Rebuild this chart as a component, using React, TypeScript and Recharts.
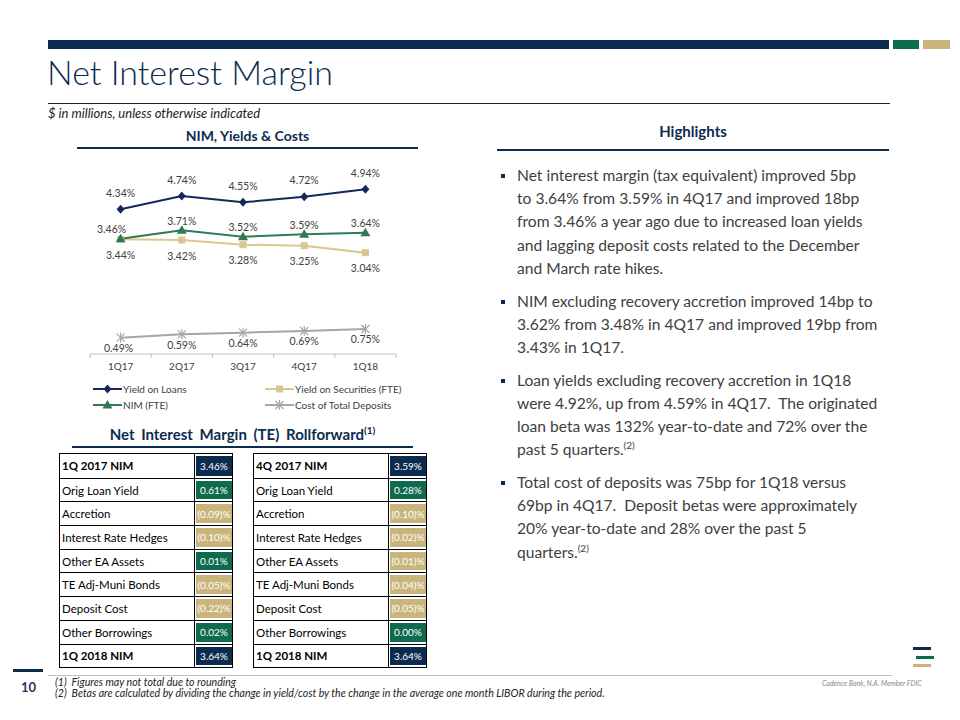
import React from 'react'
import { LineChart, Line, XAxis, YAxis, LabelList } from 'recharts'

// ---- data ----
const quarters = ['1Q17', '2Q17', '3Q17', '4Q17', '1Q18']
const yieldOnLoans = [4.34, 4.74, 4.55, 4.72, 4.94]
const yieldOnSecurities = [3.44, 3.42, 3.28, 3.25, 3.04]
const nimFte = [3.46, 3.71, 3.52, 3.59, 3.64]
const costOfDeposits = [0.49, 0.59, 0.64, 0.69, 0.75]

const rollLabelsLeft = [
  '1Q 2017 NIM', 'Orig Loan Yield', 'Accretion', 'Interest Rate Hedges', 'Other EA Assets',
  'TE Adj-Muni Bonds', 'Deposit Cost', 'Other Borrowings', '1Q 2018 NIM',
]
const rollValuesLeft = [3.46, 0.61, -0.09, -0.1, 0.01, -0.05, -0.22, 0.02, 3.64]
const rollLabelsRight = [
  '4Q 2017 NIM', 'Orig Loan Yield', 'Accretion', 'Interest Rate Hedges', 'Other EA Assets',
  'TE Adj-Muni Bonds', 'Deposit Cost', 'Other Borrowings', '1Q 2018 NIM',
]
const rollValuesRight = [3.59, 0.28, -0.1, -0.02, -0.01, -0.04, -0.05, 0.0, 3.64]

const highlights = [
  [
    'Net interest margin (tax equivalent) improved 5bp',
    'to 3.64% from 3.59% in 4Q17 and improved 18bp',
    'from 3.46% a year ago due to increased loan yields',
    'and lagging deposit costs related to the December',
    'and March rate hikes.',
  ],
  [
    'NIM excluding recovery accretion improved 14bp to',
    '3.62% from 3.48% in 4Q17 and improved 19bp from',
    '3.43% in 1Q17.',
  ],
  [
    'Loan yields excluding recovery accretion in 1Q18',
    'were 4.92%, up from 4.59% in 4Q17.  The originated',
    'loan beta was 132% year-to-date and 72% over the',
    'past 5 quarters.^',
  ],
  [
    'Total cost of deposits was 75bp for 1Q18 versus',
    '69bp in 4Q17.  Deposit betas were approximately',
    '20% year-to-date and 28% over the past 5',
    'quarters.^',
  ],
]

const chartData = quarters.map((q, i) => ({
  q,
  loans: yieldOnLoans[i],
  securities: yieldOnSecurities[i],
  nim: nimFte[i],
  cost: costOfDeposits[i],
}))

// ---- styles ----
const NAVY = '#0c2c4f'
const TEAL = '#0d6b4e'
const GOLD = '#c9b57c'
const TEXT = '#404040'
const FONT = 'Lato, "Open Sans", sans-serif'

const PLOT_W = 306
const HALF_BAND = PLOT_W / quarters.length / 2

type MarkerType = 'diamond' | 'square' | 'triangle' | 'star'

const SERIES: {
  key: string
  name: string
  color: string
  marker: MarkerType
  labelDy: number
  shift?: number[]
}[] = [
  { key: 'cost', name: 'Cost of Total Deposits', color: '#a6a6a6', marker: 'star', labelDy: 10.5, shift: [-2, 0, 0, 0, 0] },
  { key: 'securities', name: 'Yield on Securities (FTE)', color: '#d9c78f', marker: 'square', labelDy: 16 },
  { key: 'nim', name: 'NIM (FTE)', color: '#2e7a52', marker: 'triangle', labelDy: -9, shift: [-9, 0, 0, 0, 0] },
  { key: 'loans', name: 'Yield on Loans', color: '#13295c', marker: 'diamond', labelDy: -16 },
]

const legendOrder = ['loans', 'securities', 'nim', 'cost']

function Marker({ type, cx, cy, color }: { type: MarkerType; cx: number; cy: number; color: string }) {
  if (cx == null || cy == null) return null
  switch (type) {
    case 'diamond':
      return <path d={`M${cx} ${cy - 4.5}L${cx + 4} ${cy}L${cx} ${cy + 4.5}L${cx - 4} ${cy}Z`} fill={color} />
    case 'square':
      return <rect x={cx - 3.5} y={cy - 3.5} width={7} height={7} fill={color} />
    case 'triangle':
      return <path d={`M${cx} ${cy - 5}L${cx + 5} ${cy + 3.5}L${cx - 5} ${cy + 3.5}Z`} fill={color} />
    default:
      return (
        <g stroke={color} strokeWidth={1.2}>
          <line x1={cx - 4} y1={cy - 4} x2={cx + 4} y2={cy + 4} />
          <line x1={cx - 4} y1={cy + 4} x2={cx + 4} y2={cy - 4} />
          <line x1={cx} y1={cy - 5} x2={cx} y2={cy + 5} />
        </g>
      )
  }
}

const makeLabel = (dy: number, shift?: number[]) => (props: any) => {
  const { x, y, value, index } = props
  if (value == null) return null
  return (
    <text
      x={x + (shift?.[index] ?? 0)}
      y={y + dy}
      dy="0.35em"
      textAnchor="middle"
      fontSize={10.5}
      fill={TEXT}
      fontFamily={FONT}
    >
      {Number(value).toFixed(2)}%
    </text>
  )
}

const CategoryTick = (props: any) => {
  const { x, y, payload, index } = props
  const axisY = y - 9
  return (
    <g>
      <line x1={x - HALF_BAND} y1={axisY} x2={x - HALF_BAND} y2={axisY + 4} stroke="#bfbfbf" />
      {index === quarters.length - 1 && (
        <line x1={x + HALF_BAND} y1={axisY} x2={x + HALF_BAND} y2={axisY + 4} stroke="#bfbfbf" />
      )}
      <text x={x} y={y} dy="0.71em" textAnchor="middle" fontSize={10} fill={TEXT} fontFamily={FONT}>
        {payload.value}
      </text>
    </g>
  )
}

function NimChart() {
  return (
    <LineChart
      width={330}
      height={250}
      data={chartData}
      margin={{ top: 14, right: 14, left: 10, bottom: 6 }}
    >
      <XAxis
        dataKey="q"
        padding={{ left: HALF_BAND, right: HALF_BAND }}
        axisLine={{ stroke: '#bfbfbf' }}
        tickLine={false}
        tickSize={4}
        tickMargin={5}
        tick={<CategoryTick />}
        interval={0}
      />
      <YAxis hide domain={[0, 6]} />
      {SERIES.map((s) => (
        <Line
          key={s.key}
          dataKey={s.key}
          name={s.name}
          type="linear"
          stroke={s.color}
          strokeWidth={2}
          isAnimationActive={false}
          dot={(p: any) => <Marker key={`${s.key}-${p.index}`} type={s.marker} cx={p.cx} cy={p.cy} color={s.color} />}
          activeDot={false}
        >
          <LabelList dataKey={s.key} content={makeLabel(s.labelDy, s.shift)} />
        </Line>
      ))}
    </LineChart>
  )
}

function LegendBox() {
  const items = legendOrder.map((k) => SERIES.find((s) => s.key === k)!)
  return (
    <div
      style={{
        position: 'absolute',
        left: 93,
        top: 381,
        width: 330,
        display: 'grid',
        gridTemplateColumns: '172px 160px',
        fontSize: 10,
        color: TEXT,
      }}
    >
      {items.map((s) => (
        <div key={s.key} style={{ display: 'flex', alignItems: 'center', height: 16 }}>
          <svg width={29} height={12} style={{ marginRight: 1 }}>
            <line x1={0} y1={6} x2={29} y2={6} stroke={s.color} strokeWidth={2} />
            <Marker type={s.marker} cx={14.5} cy={6} color={s.color} />
          </svg>
          <span style={{ whiteSpace: 'nowrap' }}>{s.name}</span>
        </div>
      ))}
    </div>
  )
}

const fmtRoll = (v: number) => (v < 0 ? `(${Math.abs(v).toFixed(2)})%` : `${v.toFixed(2)}%`)

function RollTable({ labels, values, left }: { labels: string[]; values: number[]; left: number }) {
  const rowH = 23.7
  return (
    <div
      style={{
        position: 'absolute',
        left,
        top: 453,
        width: 174,
        border: '1px solid #000',
        boxSizing: 'border-box',
      }}
    >
      {labels.map((lab, i) => {
        const v = values[i]
        const edge = i === 0 || i === labels.length - 1
        const bg = edge ? NAVY : v < 0 ? GOLD : TEAL
        return (
          <div
            key={i}
            style={{
              display: 'flex',
              height: rowH,
              borderTop: i === 0 ? 'none' : '1px solid #000',
              boxSizing: 'border-box',
            }}
          >
            <div
              style={{
                width: 132,
                borderRight: '1px solid #000',
                fontSize: 11.5,
                fontWeight: edge ? 700 : 400,
                color: '#000',
                paddingLeft: 2,
                display: 'flex',
                alignItems: 'center',
                whiteSpace: 'nowrap',
              }}
            >
              {lab}
            </div>
            <div style={{ flex: 1, padding: '2px 0 2px 1px', boxSizing: 'border-box' }}>
              <div
                style={{
                  background: bg,
                  height: '100%',
                  color: '#fff',
                  fontSize: 10,
                  display: 'flex',
                  alignItems: 'center',
                  justifyContent: 'center',
                  overflow: 'hidden',
                  whiteSpace: 'nowrap',
                }}
              >
                {fmtRoll(v)}
              </div>
            </div>
          </div>
        )
      })}
    </div>
  )
}

function TextLine({ text }: { text: string }) {
  if (text.endsWith('^')) {
    return (
      <div>
        {text.slice(0, -1)}
        <sup style={{ fontSize: 10, lineHeight: 0 }}>(2)</sup>
      </div>
    )
  }
  return <div>{text}</div>
}

export default function App() {
  return (
    <div
      style={{
        position: 'absolute',
        left: 0,
        top: 0,
        width: 960,
        height: 720,
        background: '#fff',
        fontFamily: FONT,
        overflow: 'hidden',
      }}
    >
      {/* top bars */}
      <div style={{ position: 'absolute', left: 48, top: 40, width: 841, height: 9, background: NAVY }} />
      <div style={{ position: 'absolute', left: 893, top: 40, width: 26, height: 9, background: TEAL }} />
      <div style={{ position: 'absolute', left: 923, top: 40, width: 27, height: 9, background: GOLD }} />

      {/* title */}
      <div
        style={{
          position: 'absolute',
          left: 47,
          top: 51,
          fontSize: 34,
          fontWeight: 300,
          color: NAVY,
          whiteSpace: 'nowrap',
        }}
      >
        Net Interest Margin
      </div>
      <div style={{ position: 'absolute', left: 48, top: 103, width: 842, height: 1, background: '#222' }} />
      <div style={{ position: 'absolute', left: 48, top: 105, fontSize: 13, fontStyle: 'italic', color: '#222' }}>
        $ in millions, unless otherwise indicated
      </div>

      {/* chart header */}
      <div
        style={{
          position: 'absolute',
          left: 77,
          width: 341,
          top: 127,
          textAlign: 'center',
          fontSize: 14,
          fontWeight: 700,
          color: NAVY,
        }}
      >
        NIM, Yields &amp; Costs
      </div>
      <div style={{ position: 'absolute', left: 77, top: 147, width: 341, height: 2, background: NAVY }} />

      <div style={{ position: 'absolute', left: 80, top: 140 }}>
        <NimChart />
      </div>
      <LegendBox />

      {/* rollforward */}
      <div
        style={{
          position: 'absolute',
          left: 72,
          width: 341,
          top: 425,
          textAlign: 'center',
          fontSize: 15,
          fontWeight: 700,
          wordSpacing: 3,
          color: NAVY,
          whiteSpace: 'nowrap',
        }}
      >
        Net Interest Margin (TE) Rollforward<sup style={{ fontSize: 10, lineHeight: 0, wordSpacing: 0 }}>(1)</sup>
      </div>
      <div style={{ position: 'absolute', left: 72, top: 446, width: 341, height: 2, background: NAVY }} />
      <RollTable labels={rollLabelsLeft} values={rollValuesLeft} left={59} />
      <RollTable labels={rollLabelsRight} values={rollValuesRight} left={253} />

      {/* highlights */}
      <div
        style={{
          position: 'absolute',
          left: 497,
          width: 392,
          top: 122,
          textAlign: 'center',
          fontSize: 15,
          fontWeight: 700,
          color: NAVY,
        }}
      >
        Highlights
      </div>
      <div style={{ position: 'absolute', left: 497, top: 149, width: 392, height: 2, background: NAVY }} />
      <div style={{ position: 'absolute', left: 517, top: 164, fontSize: 15.6, lineHeight: '23.2px', color: TEXT }}>
        {highlights.map((para, pi) => (
          <div key={pi} style={{ position: 'relative', marginBottom: 9.5, whiteSpace: 'pre' }}>
            <div
              style={{ position: 'absolute', left: -16, top: 10, width: 4, height: 4, background: NAVY }}
            />
            {para.map((l, li) => (
              <TextLine key={li} text={l} />
            ))}
          </div>
        ))}
      </div>

      {/* footer */}
      <div style={{ position: 'absolute', left: 913, top: 647, width: 18, height: 3, background: NAVY }} />
      <div style={{ position: 'absolute', left: 916, top: 656, width: 18, height: 3, background: TEAL }} />
      <div style={{ position: 'absolute', left: 913, top: 664, width: 18, height: 3, background: GOLD }} />
      <div style={{ position: 'absolute', left: 13, top: 669, width: 30, height: 3, background: NAVY }} />
      <div style={{ position: 'absolute', left: 48, top: 675, width: 844, height: 1, background: '#bfbfbf' }} />
      <div style={{ position: 'absolute', left: 21, top: 679, fontSize: 13, fontWeight: 700, color: '#1f3b57' }}>10</div>
      <div
        style={{
          position: 'absolute',
          left: 55,
          top: 677,
          fontSize: 10.6,
          lineHeight: '11px',
          fontStyle: 'italic',
          color: '#222',
          whiteSpace: 'nowrap',
        }}
      >
        <div>(1)&nbsp; Figures may not total due to rounding</div>
        <div>(2)&nbsp; Betas are calculated by dividing the change in yield/cost by the change in the average one month LIBOR during the period.</div>
      </div>
      <div
        style={{
          position: 'absolute',
          left: 822,
          top: 679,
          fontSize: 7,
          fontStyle: 'italic',
          color: '#888',
          whiteSpace: 'nowrap',
        }}
      >
        Cadence Bank, N.A. Member FDIC
      </div>
    </div>
  )
}
